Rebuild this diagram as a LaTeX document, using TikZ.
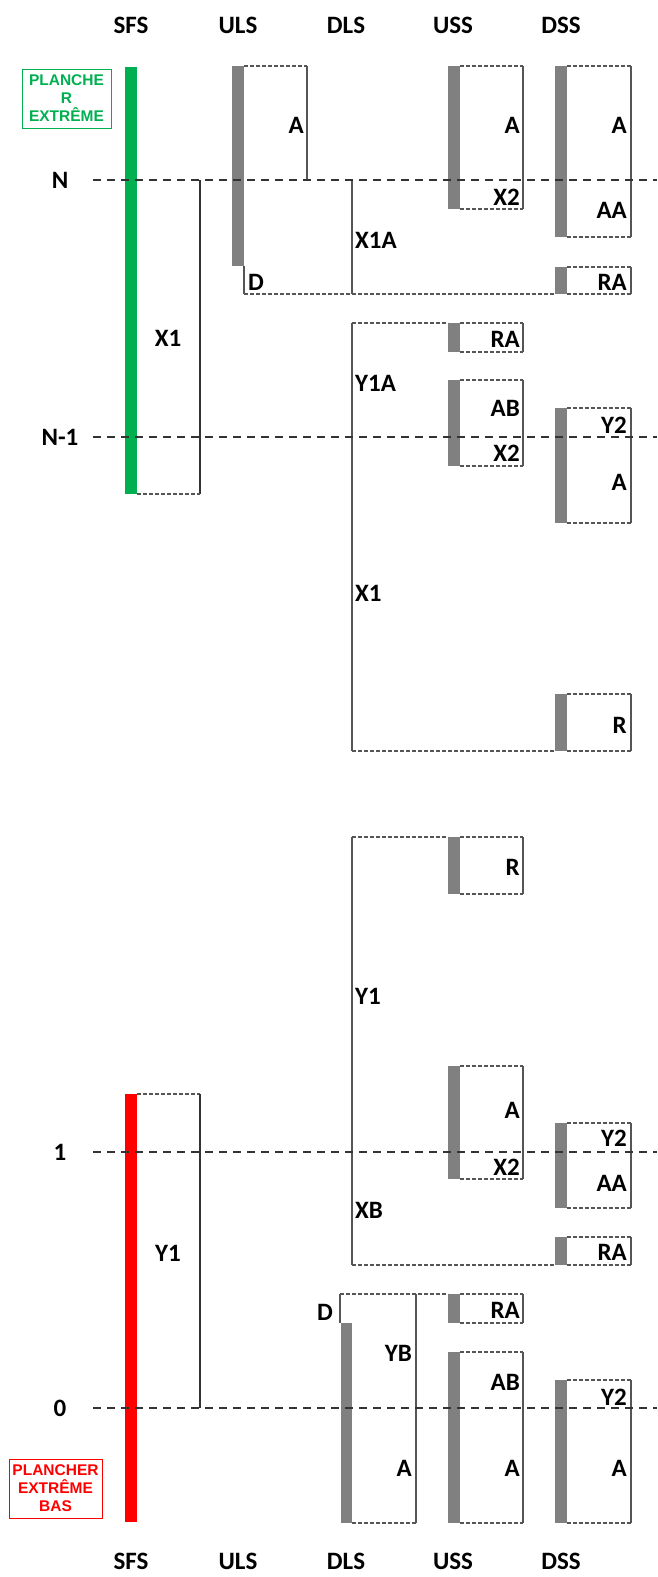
\documentclass[tikz,border=0pt]{standalone}
\usepackage{fontspec}
\newfontfamily\labfont{Carlito}
\newfontfamily\boxfont{Liberation Sans}
\definecolor{barg}{RGB}{128,128,128}
\definecolor{gr}{RGB}{0,176,80}
\definecolor{rd}{RGB}{255,0,0}
\definecolor{ln}{RGB}{85,85,85}
\newcommand\ubox[4]{% bar left, box right, top, bottom
  \fill[barg] (#1,#3) rectangle ({#1+11.5},#4);
  \draw[dsh] ({#1+11.5},#3) -- (#2,#3);
  \draw[dsh] ({#1+11.5},#4) -- (#2,#4);
  \draw[sol] (#2,#3) -- (#2,#4);
}
\begin{document}
\begin{tikzpicture}[x=1pt,y=-1pt,
 level/.style={draw=black!80, line width=2.8pt, dash pattern=on 8pt off 6pt},
 dsh/.style={draw=ln, line width=1.2pt, dash pattern=on 4pt off 2pt},
 sol/.style={draw=ln, line width=1.2pt},
 lab/.style={font=\labfont\bfseries\fontsize{25}{25}\selectfont, inner sep=0pt},
 rl/.style={lab, anchor=east},
 ll/.style={lab, anchor=west},
 warn/.style={line width=1pt, font=\boxfont\bfseries\fontsize{15.5}{18}\selectfont, align=center, inner sep=0pt},
]
\useasboundingbox (0,0) rectangle (657,1577);

% column headers
\foreach \nm/\x in {SFS/131,ULS/238,DLS/346,USS/453,DSS/561}{
  \node[lab] (top\nm) at (\x,25) {\nm};
  \node[lab] (bot\nm) at (\x,1561) {\nm};
}

% SFS column
\fill[gr] (125,67) rectangle (137,494);
\draw[sol,draw=black!80] (200,180) -- (200,494);
\draw[dsh] (137,494) -- (200,494);
\node[lab] (sfsX1) at (168,338) {X1};
\fill[rd] (125,1094) rectangle (137,1522);
\draw[dsh] (137,1094) -- (200,1094);
\draw[sol,draw=black!80] (200,1094) -- (200,1408);
\node[lab] (sfsY1) at (168,1253) {Y1};
\node[warn, draw=gr, text=gr, minimum width=89, minimum height=59] (pext) at (66.5,98.5) {PLANCHE\\R\\EXTRÊME};
\node[warn, draw=rd, text=rd, minimum width=93, minimum height=59] (pbas) at (55.5,1488.5) {PLANCHER\\EXTRÊME\\BAS};

% ULS column
\fill[barg] (232,66) rectangle (244,266);
\draw[dsh] (244,66) -- (307,66);
\draw[sol] (307,66) -- (307,180);
\node[rl] (ulsA) at (304,125) {A};
\draw[sol] (244,266) -- (244,294);
\node[ll] (ulsD) at (248,282) {D};
\draw[dsh] (244,294) -- (555,294);

% DLS column
\draw[sol] (352,180) -- (352,294);
\node[ll] (dX1A) at (355,240) {X1A};
\draw[sol] (352,323) -- (352,751);
\draw[dsh] (352,323) -- (448,323);
\draw[dsh] (352,751) -- (555,751);
\node[ll] (dY1A) at (355,383) {Y1A};
\node[ll] (dX1) at (355,593) {X1};
\draw[sol] (352,837) -- (352,1265);
\draw[dsh] (352,837) -- (448,837);
\draw[dsh] (352,1265) -- (555,1265);
\node[ll] (dY1) at (355,996) {Y1};
\node[ll] (dXB) at (355,1210) {XB};
\draw[sol] (340,1294) -- (340,1323);
\draw[dsh] (340,1294) -- (448,1294);
\fill[barg] (341,1323) rectangle (352,1523);
\draw[sol] (416,1294) -- (416,1523);
\draw[dsh] (352,1523) -- (416,1523);
\node[rl] (dD) at (333,1312) {D};
\node[rl] (dYB) at (412,1353) {YB};
\node[rl] (dA) at (412,1468) {A};

% USS column
\ubox{448}{523}{66}{209}
\node[rl] (u1a) at (520,125) {A};
\node[rl] (u1b) at (520,197) {X2};
\ubox{448}{523}{323}{352}
\node[rl] (u2a) at (520,339) {RA};
\ubox{448}{523}{380}{466}
\node[rl] (u3a) at (520,408) {AB};
\node[rl] (u3b) at (520,453) {X2};
\ubox{448}{523}{837}{894}
\node[rl] (u4a) at (520,867) {R};
\ubox{448}{523}{1066}{1179}
\node[rl] (u5a) at (520,1110) {A};
\node[rl] (u5b) at (520,1167) {X2};
\ubox{448}{523}{1294}{1323}
\node[rl] (u6a) at (520,1310) {RA};
\ubox{448}{523}{1352}{1523}
\node[rl] (u7a) at (520,1382) {AB};
\node[rl] (u7b) at (520,1468) {A};

% DSS column
\ubox{555}{631}{66}{237}
\node[rl] (s1a) at (627,125) {A};
\node[rl] (s1b) at (627,210) {AA};
\ubox{555}{631}{267}{294}
\node[rl] (s2a) at (627,282) {RA};
\ubox{555}{631}{408}{523}
\node[rl] (s3a) at (627,425) {Y2};
\node[rl] (s3b) at (627,482) {A};
\ubox{555}{631}{694}{751}
\node[rl] (s4a) at (627,725) {R};
\ubox{555}{631}{1123}{1208}
\node[rl] (s5a) at (627,1138) {Y2};
\node[rl] (s5b) at (627,1183) {AA};
\ubox{555}{631}{1237}{1265}
\node[rl] (s6a) at (627,1252) {RA};
\ubox{555}{631}{1380}{1523}
\node[rl] (s7a) at (627,1397) {Y2};
\node[rl] (s7b) at (627,1468) {A};

% levels
\foreach \nm/\y in {N/180,N-1/437,1/1152,0/1408}{
  \node[lab] (lv\nm) at (60,\y) {\nm};
  \draw[level] (93,\y) -- (657,\y);
}
\end{tikzpicture}
\end{document}
